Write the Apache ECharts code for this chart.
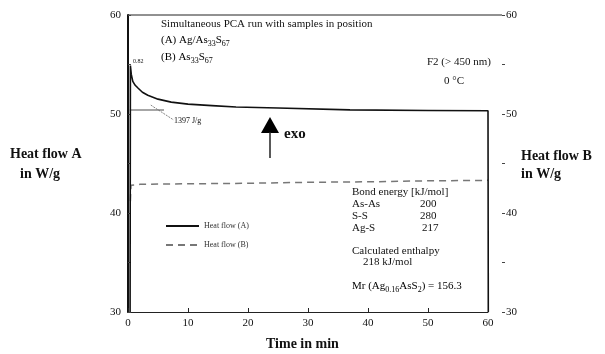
<!DOCTYPE html>
<html><head><meta charset="utf-8">
<script src="https://cdn.jsdelivr.net/npm/echarts@6/dist/echarts.min.js"></script>
<style>html,body{margin:0;padding:0;background:#fff}#c{width:605px;height:354px}</style>
</head><body><div id="c"></div>
<script>
// Data
const timeTicks = [0, 10, 20, 30, 40, 50, 60];
const heatTicks = [30, 40, 50, 60];
const heatFlowA = [[0.35,30],[0.4,54.9],[0.55,54.0],[0.8,53.3],[1.2,52.9],[1.7,52.6],[2.4,52.2],[3.3,51.9],[5,51.5],[7.2,51.2],[10,51.0],[14,50.85],[18,50.7],[25,50.6],[37,50.42],[50,50.36],[60,50.33],[60.05,30]];
const heatFlowB = [[0.4,41.2],[0.5,42.8],[2,42.9],[10,42.95],[20,43.0],[30,43.1],[40,43.15],[50,43.25],[60,43.3]];
const baseline = [[0.3,50.4],[6,50.4]];
const leader = [[3.8,50.9],[7.6,49.4]];

const serif = 'Liberation Serif';
const chart = echarts.init(document.getElementById('c'), null, {renderer:'canvas'});
const sub = {fontSize: 8, fontFamily: serif, color:'#111', padding:[6,0,0,0]};
const norm = {fontSize: 11, fontFamily: serif, color:'#111'};

chart.setOption({
  animation: false,
  backgroundColor: '#fff',
  grid: {left: 128, right: 117, top: 15, bottom: 42},
  legend: {
    orient: 'vertical', left: 160, top: 217, itemWidth: 33, itemHeight: 8, itemGap: 11,
    itemStyle: {opacity: 0, borderWidth: 0},
    textStyle: {fontSize: 8, fontFamily: serif, color: '#333'},
    data: [{name:'Heat flow (A)'}, {name:'Heat flow (B)'}]
  },
  xAxis: {
    type: 'value', min: 0, max: 60, interval: 10,
    axisLine: {lineStyle: {color: '#222', width: 1}},
    axisTick: {inside: true, length: 4, lineStyle: {color:'#222'}},
    axisLabel: {fontFamily: serif, fontSize: 11, color: '#111', margin: 6,
      formatter: v => timeTicks.includes(v) ? String(v) : ''},
    splitLine: {show: false}
  },
  yAxis: [{
    type: 'value', min: 30, max: 60, interval: 5,
    axisLine: {show: true, lineStyle: {color: '#111', width: 2}},
    axisTick: {show: true, inside: true, length: 3, lineStyle: {color:'#444'}},
    axisLabel: {fontFamily: serif, fontSize: 11, color: '#111', margin: 7,
      formatter: v => heatTicks.includes(v) ? String(v) : ''},
    splitLine: {show: false}
  }, {
    type: 'value', min: 30, max: 60, interval: 5, position: 'right', offset: 14,
    axisLine: {show: false},
    axisTick: {show: true, length: 3, lineStyle: {color:'#444'}},
    axisLabel: {fontFamily: serif, fontSize: 11, color: '#111', margin: 4,
      formatter: v => heatTicks.includes(v) ? String(v) : ''},
    splitLine: {show: false}
  }],
  series: [
    {name: 'Heat flow (A)', type: 'line', data: heatFlowA, symbol: 'none', smooth: false,
      lineStyle: {color: '#111', width: 1.6}, itemStyle: {color:'#111'}, z: 5},
    {name: 'Heat flow (B)', type: 'line', data: heatFlowB, symbol: 'none',
      lineStyle: {color: '#777', width: 1.5, type: [7,5]}, itemStyle: {color:'#777'}},
    {name: 'baseline', type: 'line', data: baseline, symbol: 'none',
      lineStyle: {color: '#888', width: 1.5}},
    {name: 'leader', type: 'line', data: leader, symbol: 'none',
      lineStyle: {color: '#666', width: 0.8, type: [2,1]}}
  ],
  graphic: [
    {type:'line', shape:{x1:128, y1:15, x2:502, y2:15}, style:{stroke:'#222', lineWidth:1}},
    {type:'text', left:161, top:19, style:{text:'Simultaneous PCA run with samples in position', font:'11px "Liberation Serif"', fill:'#111'}},
    {type:'text', left:161, top:35, style:{text:'{n|(A) Ag/As}{s|33}{n|S}{s|67}', rich:{n:norm, s:sub}}},
    {type:'text', left:161, top:52, style:{text:'{n|(B) As}{s|33}{n|S}{s|67}', rich:{n:norm, s:sub}}},
    {type:'text', left:133, top:58, style:{text:'0.82', font:'6px "Liberation Serif"', fill:'#111'}},
    {type:'text', left:427, top:57, style:{text:'F2 (> 450 nm)', font:'11px "Liberation Serif"', fill:'#111'}},
    {type:'text', left:444, top:76, style:{text:'0 °C', font:'11px "Liberation Serif"', fill:'#111'}},
    {type:'text', left:174, top:117, style:{text:'1397 J/g', font:'8px "Liberation Serif"', fill:'#111'}},
    {type:'polygon', shape:{points:[[270,117],[261,133],[279,133]]}, style:{fill:'#000'}},
    {type:'line', shape:{x1:270, y1:132, x2:270, y2:158}, style:{stroke:'#222', lineWidth:1.5}},
    {type:'text', left:284, top:127, style:{text:'exo', font:'bold 15px "Liberation Serif"', fill:'#111'}},
    {type:'text', left:10, top:147, style:{text:'Heat flow A', font:'bold 14px "Liberation Serif"', fill:'#111'}},
    {type:'text', left:20, top:167, style:{text:'in W/g', font:'bold 14px "Liberation Serif"', fill:'#111'}},
    {type:'text', left:521, top:149, style:{text:'Heat flow B', font:'bold 14px "Liberation Serif"', fill:'#111'}},
    {type:'text', left:521, top:167, style:{text:'in W/g', font:'bold 14px "Liberation Serif"', fill:'#111'}},
    {type:'text', left:266, top:337, style:{text:'Time in min', font:'bold 14px "Liberation Serif"', fill:'#111'}},
    {type:'text', left:352, top:187, style:{text:'Bond energy [kJ/mol]', font:'11px "Liberation Serif"', fill:'#111'}},
    {type:'text', left:352, top:199, style:{text:'As-As', font:'11px "Liberation Serif"', fill:'#111'}},
    {type:'text', left:420, top:199, style:{text:'200', font:'11px "Liberation Serif"', fill:'#111'}},
    {type:'text', left:352, top:211, style:{text:'S-S', font:'11px "Liberation Serif"', fill:'#111'}},
    {type:'text', left:420, top:211, style:{text:'280', font:'11px "Liberation Serif"', fill:'#111'}},
    {type:'text', left:352, top:223, style:{text:'Ag-S', font:'11px "Liberation Serif"', fill:'#111'}},
    {type:'text', left:422, top:223, style:{text:'217', font:'11px "Liberation Serif"', fill:'#111'}},
    {type:'text', left:352, top:246, style:{text:'Calculated enthalpy', font:'11px "Liberation Serif"', fill:'#111'}},
    {type:'text', left:363, top:257, style:{text:'218 kJ/mol', font:'11px "Liberation Serif"', fill:'#111'}},
    {type:'text', left:352, top:281, style:{text:'{n|Mr (Ag}{s|0.16}{n|AsS}{s|2}{n|) = 156.3}', rich:{n:norm, s:sub}}}
  ]
});
</script></body></html>
